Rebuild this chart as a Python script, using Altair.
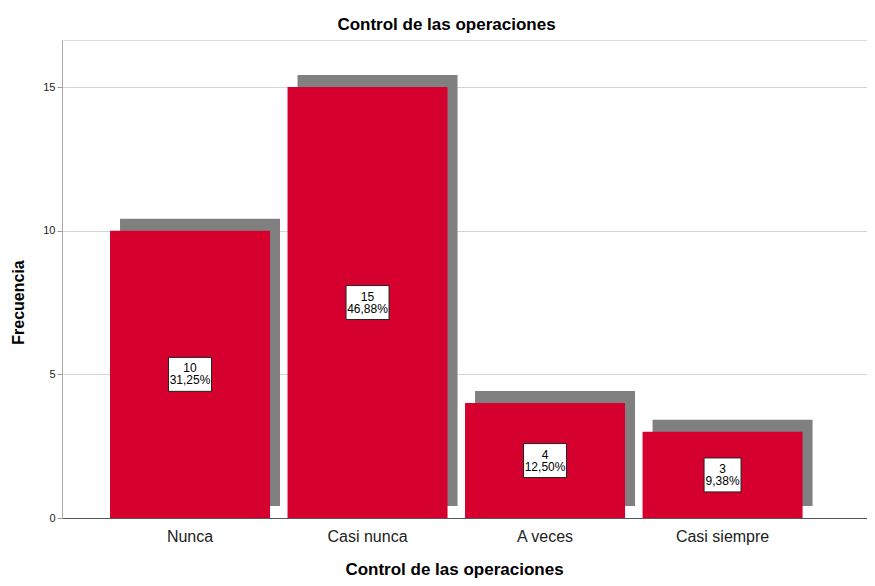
import altair as alt
import pandas as pd

categorias = ["Nunca", "Casi nunca", "A veces", "Casi siempre"]
frecuencias = [10, 15, 4, 3]
porcentajes = ["31,25%", "46,88%", "12,50%", "9,38%"]

df = pd.DataFrame({"cat": categorias, "n": frecuencias, "pct": porcentajes})

FONT = "Liberation Sans"
RED = "#d6002f"
GREY = "#808080"

p6 = "M-1,-0.79L1,-0.79L1,0.79L-1,0.79Z"
p5 = "M-0.86,-0.79L0.86,-0.79L0.86,0.79L-0.86,0.79Z"

x_enc = alt.X(
    "cat:N",
    sort=categorias,
    scale=alt.Scale(paddingInner=0.0986, paddingOuter=0.3168, align=0.427),
    axis=alt.Axis(
        title="Control de las operaciones",
        titleFont=FONT, titleFontSize=17, titleFontWeight="bold", titleColor="#000",
        titleX=392, titleY=56, titleBaseline="alphabetic", titleAnchor="start", titleAlign="center",
        labelFont=FONT, labelFontSize=16, labelColor="#222", labelAngle=0, labelPadding=10,
        ticks=False, domainColor="#555", domainWidth=1, grid=False,
    ),
)

y_scale = alt.Scale(domain=[0, 16.64], nice=False, zero=True)
y_axis = alt.Axis(
    title="Frecuencia",
    titleFont=FONT, titleFontSize=16, titleFontWeight="bold", titleColor="#000",
    titleX=-39, titleY=262, titleAngle=270, titleBaseline="alphabetic", titleAlign="center",
    labelFont=FONT, labelFontSize=11, labelColor="#222", labelPadding=2,
    values=[0, 5, 10, 15], tickSize=5, tickColor="#999", domainColor="#aaa",
    grid=True, gridColor="#d4d4d4", gridWidth=1,
)

base = alt.Chart(df)

shadow = base.mark_bar(color=GREY, xOffset=10, x2Offset=10, yOffset=-12, y2Offset=-12).encode(
    x=x_enc,
    y=alt.Y("n:Q", scale=y_scale, axis=y_axis),
    y2=alt.datum(0),
)

bars = base.mark_bar(color=RED).encode(
    x=alt.X("cat:N", sort=categorias),
    y=alt.Y("n:Q"),
    y2=alt.datum(0),
)

boxes = base.transform_calculate(
    mid="datum.n / 2", plen="'L' + length(datum.pct)"
).mark_point(filled=True, fill="white", stroke="#222", strokeWidth=1, opacity=1, size=1849).encode(
    x=alt.X("cat:N", sort=categorias),
    y=alt.Y("mid:Q"),
    shape=alt.Shape("plen:N", scale=alt.Scale(domain=["L5", "L6"], range=[p5, p6]), legend=None),
)

labels = base.transform_calculate(
    mid="datum.n / 2", lab="datum.n + '\\n' + datum.pct"
).mark_text(font=FONT, fontSize=12, lineHeight=12, color="#000", baseline="middle", align="center",
            lineBreak="\n", dy=-6).encode(
    x=alt.X("cat:N", sort=categorias),
    y=alt.Y("mid:Q"),
    text="lab:N",
)

chart = alt.layer(shadow, bars, boxes, labels).properties(
    width=805,
    height=478,
    title=alt.Title(
        "Control de las operaciones",
        font=FONT, fontSize=17, fontWeight="bold", color="#000",
        anchor="middle", dx=-18, offset=-7, baseline="alphabetic",
    ),
    autosize=alt.AutoSizeParams(type="none"),
    padding={"left": 54, "top": 32, "right": 0, "bottom": 60},
).configure_view(stroke=None).configure(background="white")

chart.save("out.html", embed_options={"renderer": "svg", "actions": False})
